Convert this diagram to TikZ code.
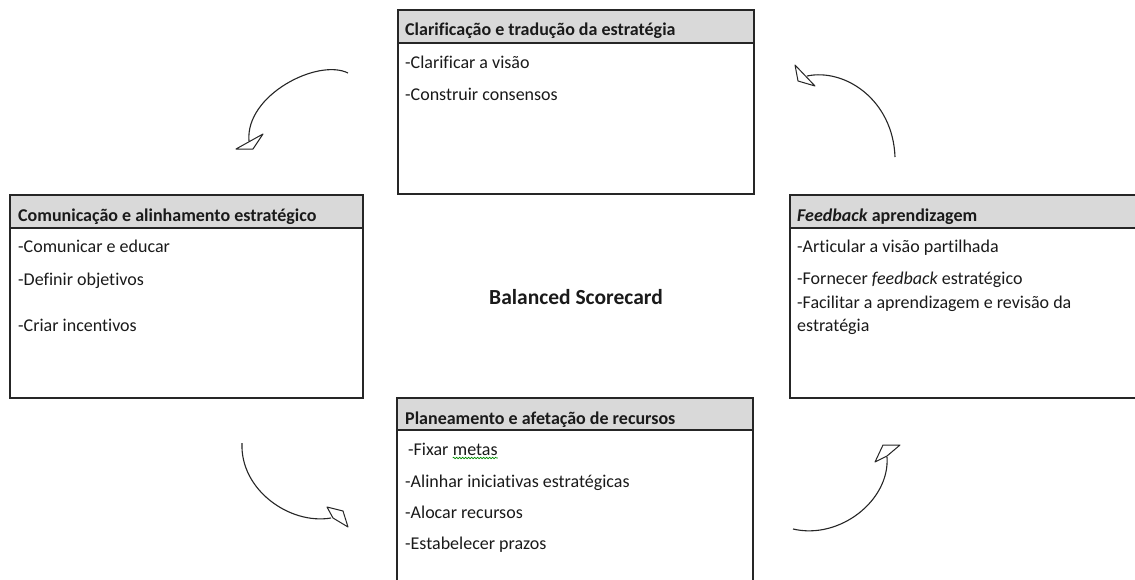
\documentclass[tikz,border=0pt]{standalone}
\usepackage{fontspec}
\setmainfont{Carlito}[Ligatures=NoCommon]
\usetikzlibrary{decorations.pathmorphing}
\definecolor{headgray}{HTML}{D9D9D9}
\definecolor{inkc}{HTML}{1A1A1A}
\begin{document}
\begin{tikzpicture}[x=1pt,y=-1pt,
  panel/.style={draw=black!85, line width=1.4pt, rectangle, inner sep=0pt, outer sep=0pt},
  headband/.style={fill=headgray},
  headrule/.style={draw=black!85, line width=1.4pt},
  head/.style={anchor=base west, inner sep=0pt, text=inkc, font=\fontsize{18}{22}\selectfont\bfseries},
  item/.style={anchor=base west, inner sep=0pt, text=inkc, font=\fontsize{18}{22}\selectfont},
  curve/.style={draw=black!85, line width=1.1pt},
  tipshape/.style={draw=black!85, fill=white, line width=1pt, line join=round},
  squiggle/.style={draw=green!55!black, line width=0.6pt,
    decorate, decoration={snake, segment length=3pt, amplitude=0.8pt}}]
\useasboundingbox (0,0) rectangle (1135,579);
\clip (0,0) rectangle (1135,579);
\fill[white] (0,0) rectangle (1135,579);

% header bands
\fill[headband] (398,10) rectangle (754,43);
\fill[headband] (10,195) rectangle (363,228);
\fill[headband] (790,195) rectangle (1145,228);
\fill[headband] (397,398) rectangle (753,430);

% panels
\node[panel, minimum width=356pt, minimum height=184pt, anchor=north west] (clar) at (398,10) {};
\node[panel, minimum width=353pt, minimum height=203pt, anchor=north west] (comu) at (10,195) {};
\node[panel, minimum width=355pt, minimum height=203pt, anchor=north west] (feed) at (790,195) {};
\node[panel, minimum width=356pt, minimum height=200pt, anchor=north west] (plan) at (397,398) {};

% header rules
\draw[headrule] (398,43) -- (754,43);
\draw[headrule] (10,228) -- (363,228);
\draw[headrule] (790,228) -- (1145,228);
\draw[headrule] (397,430) -- (753,430);

% top panel
\node[head] (clarh) at (405,35) {Clarificação e tradução da estratégia};
\node[item] (clar1) at (405,68) {-Clarificar a visão};
\node[item] (clar2) at (405,100) {-Construir consensos};

% left panel
\node[head] (comuh) at (18,221) {Comunicação e alinhamento estratégico};
\node[item] (comu1) at (18,252) {-Comunicar e educar};
\node[item] (comu2) at (18,285) {-Definir objetivos};
\node[item] (comu3) at (18,331) {-Criar incentivos};

% right panel
\node[head] (feedh) at (797,221) {\textit{Feedback} aprendizagem};
\node[item] (feed1) at (797,252) {-Articular a visão partilhada};
\node[item] (feed2) at (797,284) {-Fornecer \textit{feedback} estratégico};
\node[item] (feed3) at (797,308) {-Facilitar a aprendizagem e revisão da};
\node[item] (feed3b) at (797,331) {estratégia};

% bottom panel
\node[head] (planh) at (405,424) {Planeamento e afetação de recursos};
\node[item] (plan1) at (408,455) {-Fixar};
\node[item] (plan1b) at ([xshift=4pt]plan1.base east) {metas};
\draw[squiggle] ([yshift=-3pt]plan1b.base west) -- ([yshift=-3pt]plan1b.base east);
\node[item] (plan2) at (405,487) {-Alinhar iniciativas estratégicas};
\node[item] (plan3) at (405,518) {-Alocar recursos};
\node[item] (plan4) at (405,549) {-Estabelecer prazos};

% centre title
\node[text=inkc, font=\fontsize{21.5}{26}\selectfont\bfseries] (bsc) at (576,297) {Balanced Scorecard};

% curved arrows of the cycle
\coordinate (a1s) at (348,73);  \coordinate (a1e) at (249,141);
\coordinate (a2s) at (895,157); \coordinate (a2e) at (807,76);
\coordinate (a3s) at (242,443); \coordinate (a3e) at (331,518);
\coordinate (a4s) at (793,529); \coordinate (a4e) at (887,457);

\draw[curve] (a1s) .. controls (318,58) and (245,95) .. (a1e);
\draw[tipshape] (236,149) -- (263,134) -- (253,149) -- cycle;

\draw[curve] (a2s) .. controls (893,100) and (845,68) .. (a2e);
\draw[tipshape] (795,65) -- (798,81) -- (815,86) -- cycle;

\draw[curve] (a3s) .. controls (240,490) and (290,525) .. (a3e);
\draw[tipshape] (327,507) -- (343,511) -- (348,527) -- (333,518) -- cycle;

\draw[curve] (a4s) .. controls (840,540) and (890,500) .. (a4e);
\draw[tipshape] (875,462) -- (883,445) -- (900,445) -- (887,456) -- cycle;
\end{tikzpicture}
\end{document}
